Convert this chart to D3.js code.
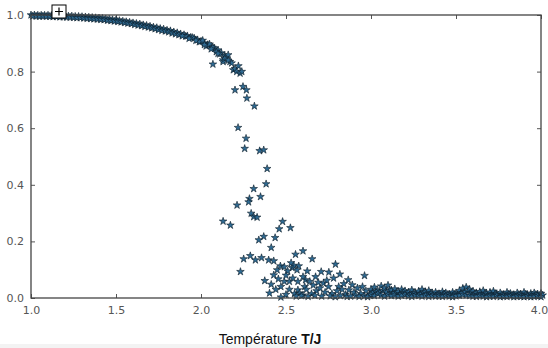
<!DOCTYPE html>
<html>
<head>
<meta charset="utf-8">
<script src="https://cdn.jsdelivr.net/npm/d3@7"></script>
<style>
  body { margin: 0; background: #fff; }
  .tick text { fill: #555; font-family: "DejaVu Sans", sans-serif; font-size: 11px; }
  .xlabel { font-family: "Liberation Sans", Arial, sans-serif; font-size: 14px; fill: #111; }
</style>
</head>
<body>
<div id="chart"></div>
<script>
// ordered phase: the thick band from T=1 to ~2.15
const orderedT = [1.00, 1.02, 1.04, 1.06, 1.08, 1.10, 1.12, 1.14, 1.16, 1.18, 1.20, 1.22, 1.24, 1.26, 1.28, 1.30,
  1.32, 1.34, 1.36, 1.38, 1.40, 1.42, 1.44, 1.46, 1.48, 1.50, 1.52, 1.54, 1.56, 1.58, 1.60, 1.62, 1.64, 1.66,
  1.68, 1.70, 1.72, 1.74, 1.76, 1.78, 1.80, 1.82, 1.84, 1.86, 1.88, 1.90, 1.92, 1.94, 1.96, 1.98, 2.00, 2.02,
  2.04, 2.06, 2.08, 2.10, 2.12, 2.14,
  1.91, 1.95, 1.99, 2.01, 2.03, 2.05, 2.07, 2.09, 2.11, 2.13, 2.13, 2.15, 2.16, 2.17, 2.18, 2.19, 2.20, 2.21,
  2.23, 2.22, 2.24];
const orderedM = [1.000, 1.000, 0.999, 0.999, 0.999, 0.999, 0.998, 0.998, 0.998, 0.997, 0.997, 0.996, 0.996,
  0.995, 0.995, 0.994, 0.993, 0.992, 0.991, 0.990, 0.989, 0.988, 0.986, 0.985, 0.983, 0.982, 0.980, 0.978,
  0.976, 0.974, 0.972, 0.970, 0.968, 0.965, 0.963, 0.960, 0.957, 0.955, 0.952, 0.950, 0.946, 0.944, 0.940,
  0.937, 0.933, 0.930, 0.926, 0.921, 0.918, 0.912, 0.907, 0.901, 0.895, 0.890, 0.882, 0.876, 0.866, 0.856,
  0.925, 0.920, 0.905, 0.910, 0.890, 0.897, 0.885, 0.870, 0.862, 0.841, 0.835, 0.850, 0.859, 0.835, 0.830,
  0.806, 0.810, 0.800, 0.794, 0.820, 0.800];

// a second run through the same band, slightly below the first
const ordered2T = [1.01, 1.03, 1.05, 1.07, 1.09, 1.11, 1.13, 1.15, 1.17, 1.19, 1.21, 1.23, 1.25, 1.27, 1.29, 1.31,
  1.33, 1.35, 1.37, 1.39, 1.41, 1.43, 1.45, 1.47, 1.49, 1.51, 1.53, 1.55, 1.57, 1.59, 1.61, 1.63, 1.65, 1.67,
  1.69, 1.71, 1.73, 1.75, 1.77, 1.79, 1.81, 1.83, 1.85, 1.87, 1.89, 1.93, 1.97, 2.02, 2.06, 2.10, 2.14, 2.16];
const ordered2M = [0.996, 0.996, 0.995, 0.996, 0.995, 0.995, 0.994, 0.994, 0.993, 0.993, 0.992, 0.992, 0.991,
  0.990, 0.990, 0.989, 0.988, 0.987, 0.986, 0.985, 0.984, 0.983, 0.981, 0.980, 0.978, 0.977, 0.975, 0.973,
  0.971, 0.969, 0.966, 0.964, 0.962, 0.959, 0.957, 0.954, 0.951, 0.948, 0.945, 0.943, 0.940, 0.936, 0.933,
  0.930, 0.926, 0.917, 0.910, 0.895, 0.880, 0.864, 0.846, 0.840];

// transition region: scattered runs near the critical temperature
const transT = [2.07, 2.20, 2.247, 2.267, 2.27, 2.314, 2.218, 2.265, 2.257, 2.345, 2.369, 2.389, 2.383, 2.31,
  2.35, 2.285, 2.28, 2.212, 2.295, 2.31, 2.33, 2.13, 2.173, 2.48, 2.46, 2.526, 2.369, 2.34, 2.436, 2.413,
  2.556, 2.60, 2.251, 2.29, 2.32, 2.356, 2.398, 2.428, 2.232, 2.467, 2.49, 2.536, 2.575, 2.448, 2.51, 2.428,
  2.455, 2.375, 2.49, 2.52, 2.57, 2.413, 2.47, 2.61, 2.57, 2.403, 2.47, 2.58,
  2.654, 2.625, 2.791, 2.707, 2.752, 2.817, 2.674, 2.615, 2.64, 2.72, 2.78, 2.866, 2.962, 2.89, 2.81, 2.565,
  2.545, 2.53, 2.50, 2.54, 2.60, 2.62, 2.66, 2.68, 2.70, 2.73, 2.75, 2.77, 2.80, 2.83, 2.85, 2.87, 2.90, 2.92,
  2.94, 2.97, 2.99, 2.52, 2.55, 2.60, 2.65, 2.69, 2.74, 2.84, 2.95, 2.44, 2.50,
  2.56, 2.59, 2.63, 2.67, 2.71, 2.76, 2.79, 2.82, 2.86, 2.88, 2.91, 2.93, 2.96, 2.98];
const transM = [0.826, 0.735, 0.747, 0.735, 0.706, 0.678, 0.602, 0.564, 0.528, 0.520, 0.523, 0.457, 0.403, 0.386,
  0.358, 0.351, 0.339, 0.328, 0.299, 0.287, 0.285, 0.271, 0.257, 0.270, 0.244, 0.248, 0.217, 0.205, 0.213, 0.178,
  0.154, 0.166, 0.138, 0.149, 0.134, 0.142, 0.134, 0.131, 0.093, 0.113, 0.110, 0.107, 0.113, 0.099, 0.095, 0.081,
  0.067, 0.061, 0.058, 0.058, 0.058, 0.048, 0.040, 0.040, 0.028, 0.017, 0.003, 0.017,
  0.138, 0.095, 0.119, 0.093, 0.091, 0.084, 0.075, 0.064, 0.058, 0.052, 0.070, 0.064, 0.079, 0.046, 0.040, 0.099,
  0.115, 0.124, 0.080, 0.070, 0.075, 0.030, 0.045, 0.025, 0.035, 0.020, 0.040, 0.015, 0.025, 0.030, 0.012, 0.028,
  0.020, 0.035, 0.015, 0.025, 0.010, 0.030, 0.015, 0.010, 0.015, 0.055, 0.062, 0.050, 0.040, 0.030, 0.012,
  0.006, 0.008, 0.005, 0.009, 0.006, 0.007, 0.004, 0.008, 0.005, 0.006, 0.009, 0.005, 0.007, 0.004];

// disordered phase tail
const tailT = [3.00, 3.02, 3.04, 3.06, 3.08, 3.10, 3.12, 3.14, 3.16, 3.18, 3.20, 3.22, 3.24, 3.26, 3.28, 3.30,
  3.32, 3.34, 3.36, 3.38, 3.40, 3.42, 3.44, 3.46, 3.48, 3.50, 3.52, 3.54, 3.56, 3.58, 3.60, 3.62, 3.64, 3.66,
  3.68, 3.70, 3.72, 3.74, 3.76, 3.78, 3.80, 3.82, 3.84, 3.86, 3.88, 3.90, 3.92, 3.94, 3.96, 3.98, 4.00];
const tailUpper = [0.030, 0.038, 0.025, 0.042, 0.035, 0.045, 0.028, 0.032, 0.022, 0.030, 0.025, 0.020, 0.028,
  0.018, 0.024, 0.030, 0.022, 0.026, 0.018, 0.020, 0.015, 0.022, 0.018, 0.014, 0.020, 0.016, 0.026, 0.034,
  0.038, 0.030, 0.024, 0.018, 0.022, 0.026, 0.016, 0.020, 0.024, 0.014, 0.018, 0.012, 0.020, 0.016, 0.012,
  0.018, 0.014, 0.020, 0.012, 0.016, 0.018, 0.014, 0.016];
const tailMid = [0.020, 0.022, 0.018, 0.026, 0.020, 0.028, 0.017, 0.020, 0.014, 0.018, 0.016, 0.013, 0.017,
  0.012, 0.015, 0.019, 0.014, 0.016, 0.012, 0.013, 0.010, 0.014, 0.012, 0.009, 0.013, 0.011, 0.017, 0.022,
  0.024, 0.019, 0.015, 0.012, 0.014, 0.016, 0.010, 0.013, 0.015, 0.010, 0.012, 0.008, 0.013, 0.011, 0.008,
  0.012, 0.009, 0.013, 0.008, 0.010, 0.012, 0.009, 0.010];
const tailLower = [0.012, 0.008, 0.015, 0.010, 0.006, 0.012, 0.008, 0.010, 0.006, 0.009, 0.012, 0.007, 0.005,
  0.010, 0.008, 0.006, 0.009, 0.005, 0.008, 0.006, 0.007, 0.005, 0.008, 0.006, 0.004, 0.007, 0.009, 0.012,
  0.010, 0.008, 0.006, 0.005, 0.008, 0.006, 0.004, 0.007, 0.005, 0.008, 0.004, 0.006, 0.005, 0.007, 0.004,
  0.006, 0.005, 0.004, 0.006, 0.004, 0.005, 0.007, 0.004];

const xTicks = [1.0, 1.5, 2.0, 2.5, 3.0, 3.5, 4.0];
const yTicks = [0.0, 0.2, 0.4, 0.6, 0.8, 1.0];

const W = 548, H = 348;
const margin = { top: 15, right: 7, bottom: 50, left: 31 };
const width = W - margin.left - margin.right;
const height = H - margin.top - margin.bottom;

const points = [];
orderedT.forEach((t, i) => points.push([t, orderedM[i]]));
ordered2T.forEach((t, i) => points.push([t, ordered2M[i]]));
transT.forEach((t, i) => points.push([t, transM[i]]));
tailT.forEach((t, i) => {
  points.push([t, tailUpper[i]]);
  points.push([t + 0.01, tailMid[i]]);
  points.push([t, tailLower[i]]);
});

const svg = d3.select('#chart').append('svg')
  .attr('width', W).attr('height', H);

// faint grey strip at the very bottom of the picture
svg.append('rect').attr('x', 0).attr('y', 344).attr('width', W).attr('height', 4).attr('fill', '#f3f3f3');

const g = svg.append('g').attr('transform', `translate(${margin.left},${margin.top})`);

const x = d3.scaleLinear().domain([1, 4]).range([0, width]);
const y = d3.scaleLinear().domain([0, 1]).range([height, 0]);

// ticks point inward on every side, matplotlib style
g.append('g').attr('transform', `translate(0,${height})`)
  .call(d3.axisBottom(x).tickValues(xTicks).tickFormat(d3.format('.1f')).tickSizeInner(-4).tickSizeOuter(0).tickPadding(8))
  .call(a => a.select('.domain').remove())
  .call(a => a.selectAll('line').attr('stroke', '#555'))
  .call(a => a.selectAll('text').filter(d => d === 4).attr('dx', -2));
g.append('g')
  .call(d3.axisTop(x).tickValues(xTicks).tickFormat('').tickSizeInner(-4).tickSizeOuter(0))
  .call(a => a.select('.domain').remove())
  .call(a => a.selectAll('line').attr('stroke', '#555'));
g.append('g')
  .call(d3.axisLeft(y).tickValues(yTicks).tickFormat(d3.format('.1f')).tickSizeInner(-4).tickSizeOuter(0).tickPadding(7))
  .call(a => a.select('.domain').remove())
  .call(a => a.selectAll('line').attr('stroke', '#555'));
g.append('g').attr('transform', `translate(${width},0)`)
  .call(d3.axisRight(y).tickValues(yTicks).tickFormat('').tickSizeInner(-4).tickSizeOuter(0))
  .call(a => a.select('.domain').remove())
  .call(a => a.selectAll('line').attr('stroke', '#555'));

const star = d3.symbol().type(d3.symbolStar).size(18);
g.selectAll('.pt')
  .data(points)
  .enter()
  .append('path')
  .attr('class', 'pt')
  .attr('transform', d => `translate(${x(d[0])},${y(d[1])})`)
  .attr('d', star)
  .attr('fill', '#2f6a92')
  .attr('stroke', '#0b1c28')
  .attr('stroke-width', 0.6);

g.append('rect')
  .attr('width', width).attr('height', height)
  .attr('fill', 'none').attr('stroke', '#444').attr('stroke-width', 1.3);

// little cursor box near the top-left corner
const box = svg.append('g').attr('transform', 'translate(52,5)');
box.append('rect').attr('width', 14).attr('height', 13).attr('fill', '#fff').attr('stroke', '#000').attr('stroke-width', 1);
box.append('path').attr('d', 'M7,2.5V10.5M3,6.5H11').attr('stroke', '#000').attr('stroke-width', 1.2);

const label = svg.append('text').attr('class', 'xlabel')
  .attr('x', 270).attr('y', 344).attr('text-anchor', 'middle');
label.append('tspan').text('Température ');
label.append('tspan').attr('font-weight', 'bold').text('T/J');
</script>
</body>
</html>
